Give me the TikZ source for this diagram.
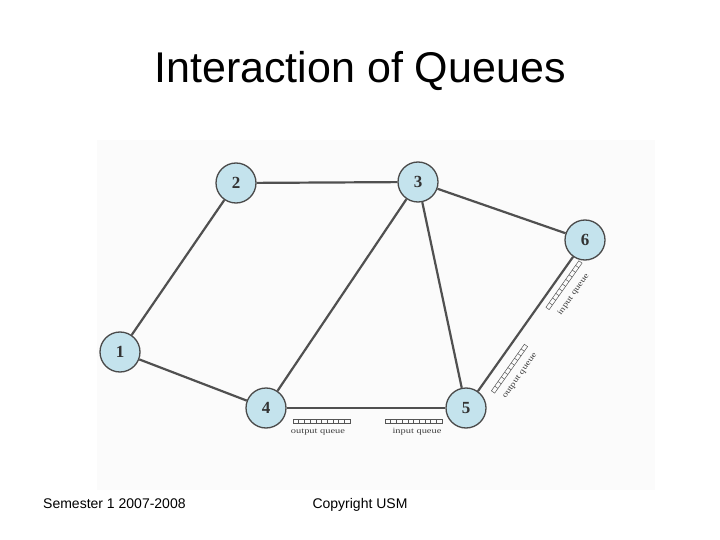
\documentclass[tikz,border=0pt]{standalone}
\usepackage{fontspec}
\setmainfont{Liberation Sans}
\newfontfamily\nodefont{Liberation Serif}
\definecolor{nodefill}{HTML}{C4E3ED}
\definecolor{nodeedge}{HTML}{4A4A4A}
\definecolor{edgecol}{HTML}{505050}
\definecolor{qcol}{HTML}{555555}
\newcommand{\qrowdraw}{%
  \draw[qcol,line width=0.5pt] (-28.5,-2) rectangle (28.5,2);
  \foreach \i in {1,...,9} {\draw[qcol,line width=0.5pt] (-28.5+5.7*\i,-2) -- (-28.5+5.7*\i,2);}
}
\tikzset{
  host/.style={circle,draw=nodeedge,line width=1.3pt,fill=nodefill,minimum size=40pt,inner sep=0pt,
    font=\nodefont\bfseries\fontsize{17}{17}\selectfont,text=black!80},
  link/.style={draw=edgecol,line width=2.2pt},
  qlabel/.style={font=\nodefont\fontsize{8}{8}\selectfont,text=black!75,inner sep=0pt}
}
\begin{document}
\begin{tikzpicture}[x=1pt,y=-1pt]
\useasboundingbox (0,0) rectangle (720,540);
\fill[white] (0,0) rectangle (720,540);
\fill[black!1.5] (97,140) rectangle (655,490);
\node[anchor=base,font=\fontsize{43}{50}\selectfont] (title) at (360,83) {Interaction of Queues};
\node[host] (n1) at (120,352) {1};
\node[host] (n2) at (236,183) {2};
\node[host] (n3) at (418,182) {3};
\node[host] (n4) at (266,408) {4};
\node[host] (n5) at (466,408) {5};
\node[host] (n6) at (585,240) {6};
\draw[link] (n1) -- (n2);
\draw[link] (n2) -- (n3);
\draw[link] (n1) -- (n4);
\draw[link] (n3) -- (n4);
\draw[link] (n3) -- (n5);
\draw[link] (n3) -- (n6);
\draw[link] (n4) -- (n5);
\draw[link] (n5) -- (n6);
% horizontal queues
\begin{scope}[shift={(321.5,421)}]\qrowdraw\end{scope}
\begin{scope}[shift={(413.5,421)}]\qrowdraw\end{scope}
\node[qlabel] (oq1) at (318,432) {\scalebox{1.3}[1]{output queue}};
\node[qlabel] (iq1) at (417,432) {\scalebox{1.3}[1]{input queue}};
% diagonal queues
\begin{scope}[shift={(564,285.2)},rotate=54.7]\qrowdraw\end{scope}
\begin{scope}[shift={(509.5,368.7)},rotate=54.7]\qrowdraw\end{scope}
\node[qlabel,rotate=54.7] (iq2) at (573.5,294.5) {\scalebox{1.3}[1]{input queue}};
\node[qlabel,rotate=54.7] (oq2) at (520,376) {\scalebox{1.3}[1]{output queue}};
% footer
\node[anchor=base west,font=\fontsize{14}{16}\selectfont,inner sep=0pt] (sem) at (43,508) {Semester 1 2007-2008};
\node[anchor=base,font=\fontsize{14}{16}\selectfont,inner sep=0pt] (copy) at (360,508) {Copyright USM};
\end{tikzpicture}
\end{document}
